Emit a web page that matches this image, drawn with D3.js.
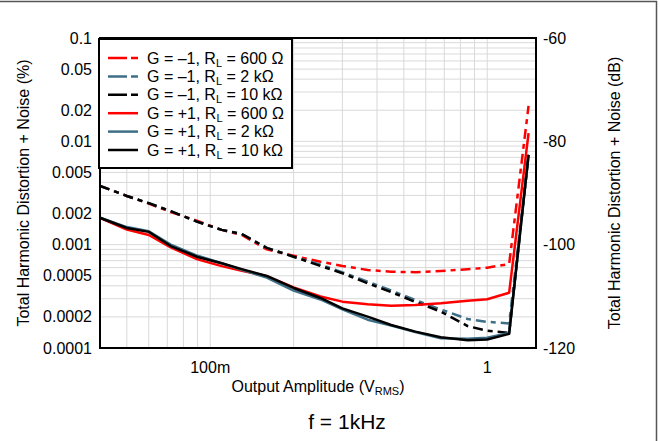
<!DOCTYPE html>
<html><head><meta charset="utf-8">
<script src="https://cdn.jsdelivr.net/npm/d3@7/dist/d3.min.js"></script>
<style>body{margin:0;background:#fff}svg{display:block;font-family:"Liberation Sans",Arial,sans-serif}</style>
</head><body>
<svg id="c" width="660" height="441"></svg>
<script>
// Output amplitude (V RMS)
const amplitude = [0.04,0.05,0.06,0.072,0.09,0.11,0.13,0.16,0.2,0.25,0.3,0.37,0.45,0.55,0.68,0.85,1.0,1.2,1.41];
// THD+N (%) per series
const gNeg600 = [0.0037,0.00296,0.0025,0.00207,0.0017,0.00139,0.00124,0.0009,0.00078,0.000684,0.000622,0.000569,0.000548,0.000541,0.000556,0.000578,0.000599,0.00065,0.022];
const gNeg2k  = [0.0037,0.00296,0.00252,0.00211,0.00166,0.00139,0.00127,0.00093,0.000765,0.00064,0.00054,0.000438,0.00036,0.000292,0.000236,0.000191,0.000179,0.000173,0.0074];
const gNeg10k = [0.0037,0.00296,0.00252,0.00211,0.00166,0.00139,0.00127,0.00093,0.000765,0.000622,0.000529,0.000423,0.000348,0.000279,0.000225,0.000163,0.000147,0.00014,0.0074];
const gPos600 = [0.00182,0.0014,0.00124,0.00094,0.00072,0.00062,0.00056,0.000495,0.000385,0.000315,0.000281,0.000265,0.000257,0.000261,0.000271,0.000287,0.000296,0.000343,0.012];
const gPos2k  = [0.00182,0.00148,0.00135,0.001,0.00078,0.00066,0.00057,0.00048,0.00036,0.000295,0.000236,0.000188,0.000165,0.000143,0.000124,0.000123,0.000126,0.00014,0.0074];
const gPos10k = [0.00182,0.00145,0.00133,0.00097,0.00076,0.00066,0.00058,0.000498,0.000381,0.000305,0.000242,0.000201,0.000167,0.000144,0.000127,0.000119,0.000121,0.000137,0.0074];

const seriesGain = ["\u20131","\u20131","\u20131","+1","+1","+1"];
const seriesLoad = ["600 \u03A9","2 k\u03A9","10 k\u03A9","600 \u03A9","2 k\u03A9","10 k\u03A9"];
const seriesColor = ["#ff0000","#3e6f86","#000000","#ff0000","#3e6f86","#000000"];
const seriesDashed = [true,true,true,false,false,false];
const seriesValues = [gNeg600,gNeg2k,gNeg10k,gPos600,gPos2k,gPos10k];

const yTicks = [0.1,0.05,0.02,0.01,0.005,0.002,0.001,0.0005,0.0002,0.0001];
const yTickLabels = ["0.1","0.05","0.02","0.01","0.005","0.002","0.001","0.0005","0.0002","0.0001"];
const dbTicks = [-60,-80,-100,-120];
const xTicks = [0.1,1];
const xTickLabels = ["100m","1"];

const svg = d3.select("#c");
const L=100,R=536,T=38,B=348;
const x = d3.scaleLog().domain([0.04,1.5]).range([L,R]);
const y = d3.scaleLog().domain([0.0001,0.1]).range([B,T]);
const yDb = d3.scaleLinear().domain([-120,-60]).range([B,T]);
const FS=16;

// outer border
svg.append("path").attr("d","M0,1.5H656.5V441").attr("fill","none").attr("stroke","#555").attr("stroke-width",1.5);

// grid
const xGrid=[]; for(let e=-2;e<=0;e++) for(let m=1;m<=9;m++){const v=m*Math.pow(10,e); if(v>0.04&&v<1.5) xGrid.push(v);}
const yGrid=[]; for(let e=-4;e<=-2;e++) for(let m=1;m<=9;m++){const v=m*Math.pow(10,e); if(v>0.0001&&v<0.1) yGrid.push(v);}
const g=svg.append("g");
g.selectAll("line.vx").data(xGrid).join("line").attr("x1",d=>x(d)).attr("x2",d=>x(d)).attr("y1",T).attr("y2",B).attr("stroke","#d9d9d9").attr("stroke-width",1);
g.selectAll("line.hy").data(yGrid).join("line").attr("y1",d=>y(d)).attr("y2",d=>y(d)).attr("x1",L).attr("x2",R).attr("stroke","#d9d9d9").attr("stroke-width",1);

// clip
svg.append("clipPath").attr("id","pc").append("rect").attr("x",L).attr("y",T).attr("width",R-L).attr("height",B-T);
const line=d3.line().x(d=>x(d[0])).y(d=>y(d[1]));
const cg=svg.append("g").attr("clip-path","url(#pc)");
[0,1,2,3,4,5].forEach(i=>{
  cg.append("path").datum(amplitude.map((a,j)=>[a,seriesValues[i][j]]))
    .attr("d",line).attr("fill","none").attr("stroke",seriesColor[i]).attr("stroke-width",2.5)
    .attr("stroke-linejoin","round")
    .attr("stroke-dasharray",seriesDashed[i]?"10,5,5,5":null);
});

// frame
svg.append("rect").attr("x",L).attr("y",T).attr("width",R-L).attr("height",B-T).attr("fill","none").attr("stroke","#000").attr("stroke-width",2);

// left ticks
svg.append("g").selectAll("text").data(yTicks).join("text")
  .attr("x",92).attr("y",d=>y(d)).attr("dy","0.35em").attr("text-anchor","end")
  .attr("font-size",FS).attr("fill","#000").text((d,i)=>yTickLabels[i]);
// right ticks
svg.append("g").selectAll("text").data(dbTicks).join("text")
  .attr("x",543).attr("y",d=>yDb(d)).attr("dy","0.35em").attr("text-anchor","start")
  .attr("font-size",FS).attr("fill","#000").text(d=>d);
// x ticks
svg.append("g").selectAll("text").data(xTicks).join("text")
  .attr("x",d=>x(d)).attr("y",373).attr("text-anchor","middle")
  .attr("font-size",FS).attr("fill","#000").text((d,i)=>xTickLabels[i]);

// axis titles
const xt=svg.append("text").attr("x",318).attr("y",392).attr("text-anchor","middle").attr("font-size",FS);
xt.append("tspan").text("Output Amplitude (V");
xt.append("tspan").attr("font-size",11).attr("dy",3).text("RMS");
xt.append("tspan").attr("dy",-3).text(")");
svg.append("text").attr("transform","translate(29,193) rotate(-90)").attr("text-anchor","middle").attr("font-size",FS).text("Total Harmonic Distortion + Noise (%)");
svg.append("text").attr("transform","translate(620,193) rotate(-90)").attr("text-anchor","middle").attr("font-size",FS).text("Total Harmonic Distortion + Noise (dB)");
svg.append("text").attr("x",347).attr("y",429).attr("text-anchor","middle").attr("font-size",21).text("f = 1kHz");

// legend
svg.append("rect").attr("x",99).attr("y",39).attr("width",193).attr("height",129).attr("fill","#fff").attr("stroke","#000").attr("stroke-width",2);
[0,1,2,3,4,5].forEach(i=>{
  const yy=58+i*18.4;
  svg.append("line").attr("x1",108).attr("x2",138).attr("y1",yy).attr("y2",yy)
    .attr("stroke",seriesColor[i]).attr("stroke-width",2.5).attr("stroke-dasharray",seriesDashed[i]?"19,4,7,10":null);
  const t=svg.append("text").attr("x",147).attr("y",yy).attr("dy","0.35em").attr("font-size",FS);
  t.append("tspan").text("G = "+seriesGain[i]+", R");
  t.append("tspan").attr("font-size",11).attr("dy",3).text("L");
  t.append("tspan").attr("dy",-3).text(" = "+seriesLoad[i]);
});
</script>
</body></html>
